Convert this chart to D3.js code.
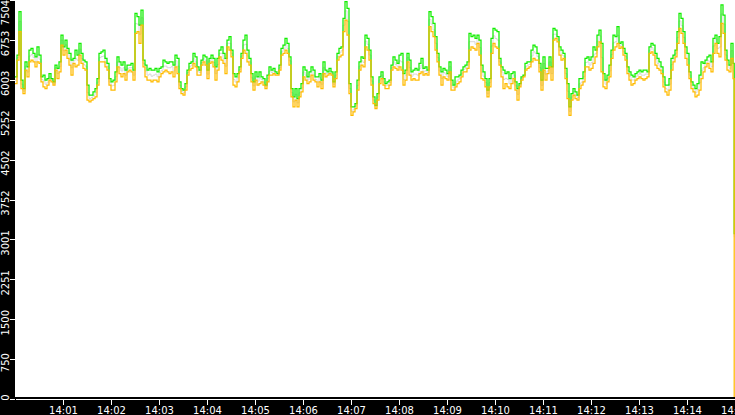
<!DOCTYPE html>
<html>
<head>
<meta charset="utf-8">
<script src="https://cdn.jsdelivr.net/npm/d3@7"></script>
<style>
  html, body { margin: 0; padding: 0; background: #000; }
  svg { display: block; }
  .axis text { font-family: "DejaVu Sans", sans-serif; font-size: 10px; fill: #fff; }
  .axis path, .axis line { stroke: #fff; }
</style>
</head>
<body>
<svg id="chart" width="735" height="415"></svg>
<script>
// ---- data ----
const startTime = "2024-01-01T14:00:00";
const endTime = "2024-01-01T14:15:00";
const sampleStepSeconds = 2.5;

const greenValues = [
6058,6467,7284,5996,5839,6341,6247,6561,6593,6498,
6436,6624,6467,6058,6090,5996,6027,6121,6027,5964,
6279,6216,6341,6844,6624,6750,6593,6498,6373,6404,
6561,6467,6687,6498,6373,6341,5901,5713,5713,5776,
5839,6027,6498,6530,6561,6404,6310,6027,5964,5996,
6153,6436,6341,6279,6341,6184,6279,6279,6310,6184,
7253,7190,7033,7315,6373,6279,6184,6216,6184,6184,
6216,6153,6216,6247,6373,6341,6310,6341,6341,6279,
6467,6404,5964,5839,5807,5933,6184,6310,6341,6498,
6436,6247,6184,6373,6467,6436,6184,6404,6467,6404,
6247,6404,6561,6624,6498,6404,6750,6813,6561,6121,
6058,6121,6247,6498,6750,6844,6561,6404,6121,5964,
6153,6058,6153,6058,6027,5901,6090,6247,6184,6216,
6153,6121,6279,6593,6656,6781,6687,6436,5839,5681,
5839,5650,5839,5933,6247,6184,6058,6153,6247,6184,
6058,6058,6121,5996,6341,6184,6153,6216,6153,5964,
6153,6498,6593,6624,7158,7473,7347,5933,5493,5493,
5556,5996,6341,6436,6404,6844,6781,6561,6058,5681,
5524,5744,6058,6153,6027,5933,5964,5996,6279,6436,
6373,6310,6467,6498,6121,6184,6498,6373,6153,6184,
6216,6184,6310,6404,6216,6247,6184,7284,7190,7064,
6813,6498,6247,6153,6216,6184,6121,6341,5996,5901,
6058,6058,6090,6184,6247,6279,6341,6876,6813,6844,
6781,6844,6750,6279,6153,6027,5807,6027,6781,6970,
6938,6907,6404,6247,6184,6121,6153,6027,6121,6153,
5964,5839,5933,6058,6090,6310,6341,6341,6561,6656,
6624,6498,6310,5996,6436,6216,6216,6436,6247,6970,
6938,6813,6624,6561,6498,6216,5933,5493,5744,5839,
5776,5713,6027,6027,6153,6404,6436,6373,6436,6624,
6561,6844,6938,6687,6121,5996,6090,6279,6561,6844,
6813,7001,6687,6718,6593,6498,6247,6153,6090,6058,
6121,6153,6184,6153,6184,6184,6153,6624,6687,6656,
6498,6404,6341,6247,6058,5901,5901,6027,6404,6467,
6561,6907,7253,7158,6907,6624,6498,6153,5964,5901,
5839,5933,6090,6341,6310,6373,6436,6467,6341,6781,
6844,6687,6813,7410,7221,6561,6373,6279,6687,6310
];

const grayValues = [
6000,6420,7100,5920,5790,6260,6150,6450,6480,6420,
6340,6480,6390,6010,5980,5920,5960,6060,6000,5930,
6230,6120,6250,6750,6550,6660,6500,6390,6230,6360,
6400,6370,6580,6400,6290,6260,5760,5650,5670,5710,
5760,5960,6420,6440,6450,6330,6250,5960,5890,5900,
6060,6340,6230,6170,6230,6090,6220,6230,6230,6090,
7060,7050,6860,7170,6310,6170,6090,6110,6070,6090,
6110,6060,6140,6180,6260,6260,6230,6230,6250,6170,
6360,6260,5900,5790,5760,5870,6140,6250,6280,6400,
6340,6170,6140,6330,6400,6360,6110,6360,6400,6330,
6120,6290,6500,6500,6400,6260,6690,6690,6500,6010,
5960,6040,6200,6450,6660,6670,6450,6340,6040,5890,
6070,5980,6040,6010,5960,5870,6030,6170,6140,6170,
6120,6110,6230,6530,6580,6670,6590,6360,5760,5590,
5730,5570,5760,5850,6150,6090,6000,6060,6170,6090,
6010,5960,6040,5920,6230,6120,6120,6170,6120,5920,
6090,6440,6510,6550,7030,7300,7100,5840,5410,5450,
5510,5900,6260,6360,6330,6730,6670,6470,5980,5620,
5490,5680,6000,6090,5960,5890,5900,5950,6230,6340,
6290,6250,6360,6340,6010,6090,6420,6230,6070,6110,
6110,6090,6220,6280,6150,6180,6140,7140,7050,6940,
6690,6420,6170,6030,6140,6110,6060,6250,5900,5850,
5960,6000,6030,6120,6200,6220,6280,6720,6720,6720,
6670,6770,6610,6150,6070,5950,5740,5950,6640,6830,
6780,6750,6340,6150,6010,6030,6010,5930,6030,6090,
5890,5730,5900,6030,6070,6250,6280,6290,6450,6530,
6500,6440,6230,5900,6310,6110,6170,6340,6120,6860,
6860,6770,6550,6470,6450,6120,5790,5410,5680,5780,
5710,5670,5930,5960,6060,6330,6340,6280,6330,6470,
6500,6730,6830,6420,6000,5920,6030,6170,6480,6700,
6720,6840,6640,6670,6530,6440,6180,6070,6000,6000,
6060,6090,6120,6090,6090,6110,6110,6560,6610,6560,
6390,6310,6260,6180,5960,5840,5810,5920,6290,6400,
6500,6800,7110,7020,6800,6510,6390,6090,5900,5840,
5760,5820,5950,6180,6230,6310,6370,6340,6250,6640,
6770,6590,6620,7240,7050,6470,6280,6220,6550,6170
];

const orangeValues = [
5933,6373,6907,5839,5744,6184,6058,6341,6373,6341,
6247,6341,6310,5964,5870,5839,5901,5996,5964,5901,
6184,6027,6153,6656,6467,6561,6404,6279,6090,6310,
6247,6279,6467,6310,6216,6184,5619,5587,5619,5650,
5681,5901,6341,6341,6341,6247,6184,5901,5807,5807,
5964,6247,6121,6058,6121,5996,6153,6184,6153,5996,
6876,6907,6687,7033,6247,6058,5996,5996,5964,5996,
5996,5964,6058,6121,6153,6184,6153,6121,6153,6058,
6247,6121,5839,5744,5713,5807,6090,6184,6216,6310,
6247,6090,6090,6279,6341,6279,6027,6310,6341,6247,
5996,6184,6436,6373,6310,6121,6624,6561,6436,5901,
5870,5964,6153,6404,6561,6498,6341,6279,5964,5807,
5996,5901,5933,5964,5901,5839,5964,6090,6090,6121,
6090,6090,6184,6467,6498,6561,6498,6279,5681,5493,
5619,5493,5681,5776,6058,5996,5933,5964,6090,5996,
5964,5870,5964,5839,6121,6058,6090,6121,6090,5870,
6027,6373,6436,6467,6907,7127,6844,5744,5336,5399,
5461,5807,6184,6279,6247,6624,6561,6373,5901,5556,
5461,5619,5933,6027,5901,5839,5839,5901,6184,6247,
6216,6184,6247,6184,5901,5996,6341,6090,5996,6027,
5996,5996,6121,6153,6090,6121,6090,7001,6907,6813,
6561,6341,6090,5901,6058,6027,5996,6153,5807,5807,
5870,5933,5964,6058,6153,6153,6216,6561,6624,6593,
6561,6687,6467,6027,5996,5870,5681,5870,6498,6687,
6624,6593,6279,6058,5839,5933,5870,5839,5933,6027,
5807,5619,5870,5996,6058,6184,6216,6247,6341,6404,
6373,6373,6153,5807,6184,5996,6121,6247,5996,6750,
6781,6718,6467,6373,6404,6027,5650,5336,5619,5713,
5650,5619,5839,5901,5964,6247,6247,6184,6216,6310,
6436,6624,6718,6153,5870,5839,5964,6058,6404,6561,
6624,6687,6593,6624,6467,6373,6121,5996,5901,5933,
5996,6027,6058,6027,5996,6027,6058,6498,6530,6467,
6279,6216,6184,6121,5870,5776,5713,5807,6184,6341,
6436,6687,6970,6876,6687,6404,6279,6027,5839,5776,
5681,5713,5807,6027,6153,6247,6310,6216,6153,6498,
6687,6498,6436,7064,6876,6373,6184,6153,6404,6027
];

// final drop at the end of the period
const tailSeconds = [899, 900];
const tailGreen = [3110, 3110];
const tailGray = [3050, 3050];
const tailOrange = [0, 0];

const yMax = 7504;
const yTickValues = [0, 750, 1500, 2251, 3001, 3752, 4502, 5252, 6003, 6753, 7504];
const yTickLabels = ["0", "750", "1500", "2251", "3001", "3752", "4502", "5252", "6003", "6753", "7504"];
const xTickMinutes = [1,2,3,4,5,6,7,8,9,10,11,12,13,14,15];

const colors = { green: "#11ee00", gray: "#d4d4d4", orange: "#ffbb00" };

// ---- chart ----
const W = 735, H = 415;
const plot = { left: 15, right: 735, top: 0, bottom: 397 };
const svg = d3.select("#chart");

svg.append("rect").attr("width", W).attr("height", H).attr("fill", "#000");
svg.append("rect")
  .attr("x", plot.left).attr("y", plot.top)
  .attr("width", plot.right - plot.left).attr("height", plot.bottom - plot.top)
  .attr("fill", "#fff");

const t0 = new Date(startTime), t1 = new Date(endTime);
const x = d3.scaleTime().domain([t0, t1]).range([15, 735]);
const y = d3.scaleLinear().domain([0, yMax]).range([399, 0]);

svg.append("defs").append("clipPath").attr("id", "clip")
  .append("rect")
  .attr("x", plot.left).attr("y", plot.top)
  .attr("width", plot.right - plot.left).attr("height", plot.bottom - plot.top);

function series(values, tailVals) {
  const pts = values.map((v, i) => ({ t: new Date(+t0 + i * sampleStepSeconds * 1000), v }));
  tailSeconds.forEach((s, i) => pts.push({ t: new Date(+t0 + s * 1000), v: tailVals[i] }));
  return pts;
}

const line = d3.line()
  .x(d => x(d.t))
  .y(d => y(d.v))
  .curve(d3.curveStepAfter);

const gLines = svg.append("g").attr("clip-path", "url(#clip)");
[[grayValues, tailGray, colors.gray, 0.9],
 [greenValues, tailGreen, colors.green, 1.25],
 [orangeValues, tailOrange, colors.orange, 1.25]].forEach(([vals, tail, c, w]) => {
  gLines.append("path")
    .datum(series(vals, tail))
    .attr("d", line)
    .attr("fill", "none")
    .attr("stroke", c)
    .attr("stroke-width", w);
});

// x axis
const xTicks = xTickMinutes.map(m => new Date(+t0 + m * 60000));
const xAxis = d3.axisBottom(x)
  .tickValues(xTicks)
  .tickFormat(d3.timeFormat("%H:%M"))
  .tickSize(6).tickSizeOuter(0).tickPadding(2);
const gx = svg.append("g").attr("class", "axis")
  .attr("transform", "translate(0,399)")
  .call(xAxis);
gx.selectAll("path, line").attr("shape-rendering", "crispEdges");

// y axis
const yAxis = d3.axisLeft(y)
  .tickValues(yTickValues)
  .tickFormat((d, i) => yTickLabels[i])
  .tickSize(5).tickSizeOuter(0);
const gy = svg.append("g").attr("class", "axis")
  .attr("transform", "translate(15,0)")
  .call(yAxis);
gy.select(".domain").remove();
gy.selectAll("line").attr("shape-rendering", "crispEdges");
gy.selectAll(".tick").each(function(d) {
  const tickY = y(d);
  const center = Math.max(12, Math.min(397, tickY + 3));
  d3.select(this).select("text")
    .attr("x", null).attr("dy", null)
    .attr("text-anchor", "middle")
    .attr("transform", `translate(-6,${center - tickY}) rotate(-90)`);
});
</script>
</body>
</html>
